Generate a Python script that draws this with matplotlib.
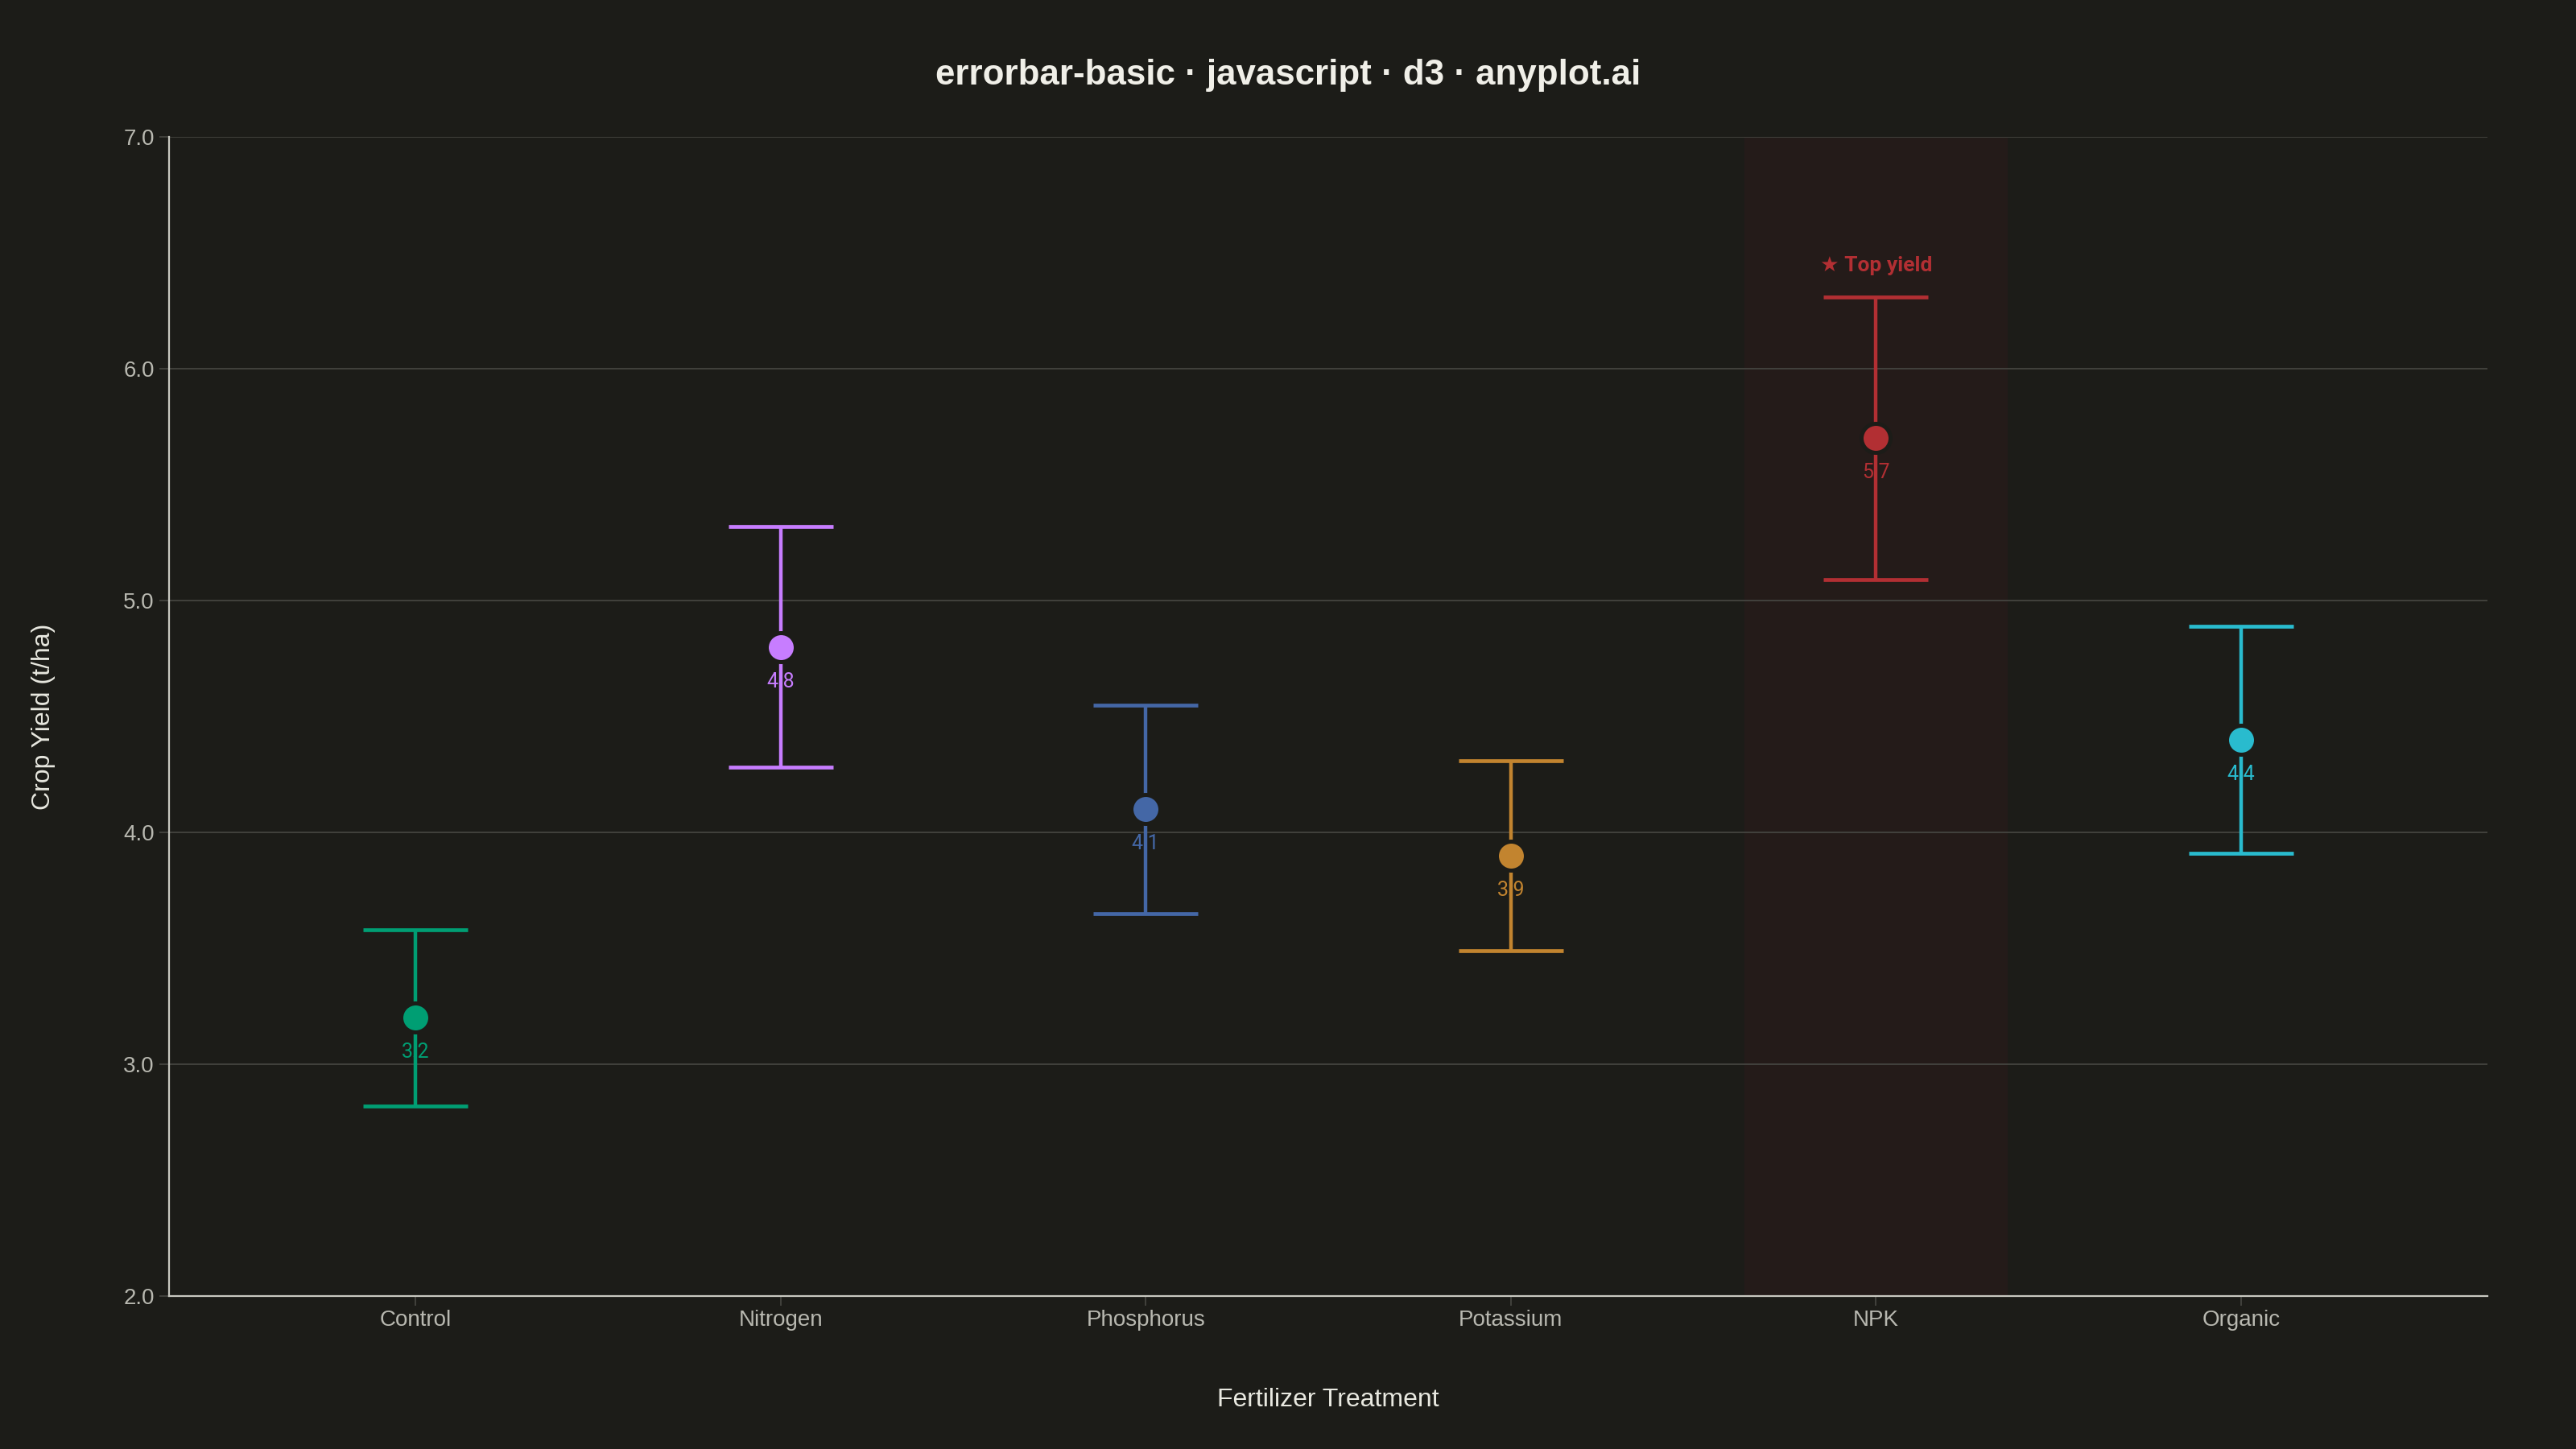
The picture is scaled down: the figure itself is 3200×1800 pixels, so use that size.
import matplotlib
matplotlib.use("Agg")
from matplotlib import pyplot as plt

# data
treatments = ["Control", "Nitrogen", "Phosphorus", "Potassium", "NPK", "Organic"]
mean_yield = [3.2, 4.8, 4.1, 3.9, 5.7, 4.4]
yield_err = [0.38, 0.52, 0.45, 0.41, 0.61, 0.49]
colors = ["#009E73", "#C77DFF", "#4467A6", "#C2842F", "#B22F33", "#29BBCE"]
y_ticks = [2.0, 3.0, 4.0, 5.0, 6.0, 7.0]
best = 4  # NPK

BG = "#1c1c18"
BAND = "#241b19"
GRID = "#42423d"
SPINE = "#c8c8c0"
TICK_TXT = "#b8b8b0"
LABEL_TXT = "#e8e8e0"
TITLE_TXT = "#f0efe8"

plt.rcParams["font.family"] = ["Liberation Sans", "DejaVu Sans"]

fig = plt.figure(figsize=(16, 9), dpi=200, facecolor=BG)
ax = fig.add_axes([0.0656, 0.1056, 0.9, 0.8])
ax.set_facecolor(BG)

x = list(range(len(treatments)))
ax.set_xlim(-0.675, len(treatments) - 1 + 0.675)
ax.set_ylim(y_ticks[0], y_ticks[-1])

# highlight band behind the top treatment
ax.axvspan(best - 0.36, best + 0.36, color=BAND, lw=0, zorder=0)

ax.set_yticks(y_ticks)
ax.set_yticklabels([f"{v:.1f}" for v in y_ticks])
ax.grid(axis="y", color=GRID, lw=0.7, zorder=0.5)
ax.set_xticks(x)
ax.set_xticklabels(treatments)

for s in ["top", "right"]:
    ax.spines[s].set_visible(False)
for s in ["left", "bottom"]:
    ax.spines[s].set_color(SPINE)
    ax.spines[s].set_linewidth(0.8)
    ax.spines[s].set_zorder(3)

ax.tick_params(axis="x", colors=GRID, labelcolor=TICK_TXT, labelsize=10,
               length=4.3, width=0.7, pad=2)
ax.tick_params(axis="y", colors=GRID, labelcolor=TICK_TXT, labelsize=10,
               length=4.5, width=0.7, pad=2)

for i in x:
    c = colors[i]
    # value label sits under the bar line
    ax.annotate(f"{mean_yield[i]:.1f}", (i, mean_yield[i]), xytext=(0, -15.5),
                textcoords="offset points", ha="center", va="center",
                color=c, fontsize=9, family=["Roboto", "DejaVu Sans"], zorder=2)
    ax.errorbar(i, mean_yield[i], yerr=yield_err[i], fmt="none", ecolor=c,
                elinewidth=1.6, capsize=23.4, capthick=1.7, zorder=4)
    ax.plot(i, mean_yield[i], "o", ms=12.96, mfc=c, mec=BG, mew=1.8, zorder=5)

ax.annotate("★ Top yield", (best, mean_yield[best] + yield_err[best]),
            xytext=(0, 14), textcoords="offset points", ha="center", va="center",
            color=colors[best], fontsize=9.5, fontweight="bold",
            family=["Roboto", "DejaVu Sans"], zorder=6)

ax.set_xlabel("Fertilizer Treatment", color=LABEL_TXT, fontsize=11.5)
ax.xaxis.set_label_coords(0.5, -0.079)
ax.set_ylabel("Crop Yield (t/ha)", color=LABEL_TXT, fontsize=11.5)
ax.yaxis.set_label_coords(-0.049, 0.5)

fig.text(0.5, 0.948, "errorbar-basic · javascript · d3 · anyplot.ai",
         ha="center", va="center", color=TITLE_TXT, fontsize=15.8, fontweight="bold")

fig.savefig("out.png", dpi=200, facecolor=BG)
